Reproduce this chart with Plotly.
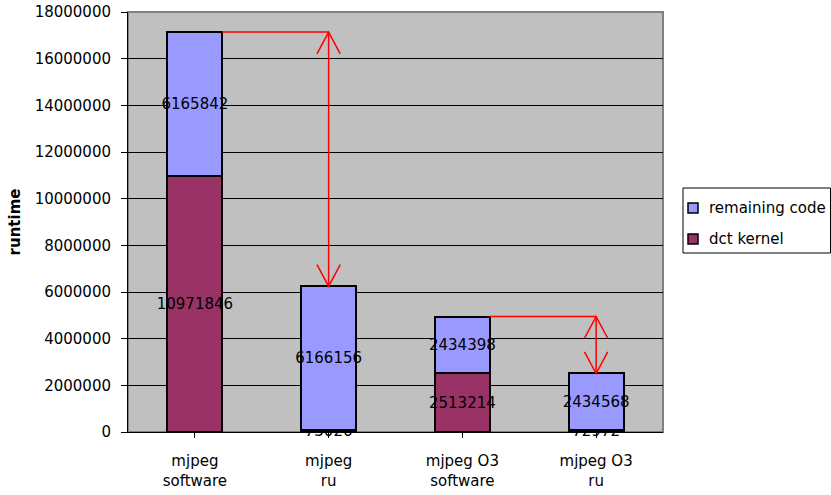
import plotly.graph_objects as go

categories = ["mjpeg<br>software", "mjpeg<br>ru", "mjpeg O3<br>software", "mjpeg O3<br>ru"]
dct_kernel = [10971846, 73026, 2513214, 72972]
remaining_code = [6165842, 6166156, 2434398, 2434568]
y_ticks = list(range(0, 18000001, 2000000))
series_names = ["remaining code", "dct kernel"]
series_colors = ["#9999FF", "#993366"]

totals = [a + b for a, b in zip(dct_kernel, remaining_code)]
x_idx = list(range(len(categories)))

FONT = "DejaVu Sans, Liberation Sans, Arial"
label_font = dict(color="black", size=15, family=FONT)

fig = go.Figure()
fig.add_trace(go.Bar(
    name=series_names[1], x=x_idx, y=dct_kernel,
    marker=dict(color=series_colors[1], line=dict(color="black", width=2)),
    text=[str(v) for v in dct_kernel], textposition="inside", insidetextanchor="middle",
    textangle=0, textfont=label_font, insidetextfont=label_font,
    constraintext="none", cliponaxis=False, showlegend=False,
))
fig.add_trace(go.Bar(
    name=series_names[0], x=x_idx, y=remaining_code,
    marker=dict(color=series_colors[0], line=dict(color="black", width=2)),
    text=[str(v) for v in remaining_code], textposition="inside", insidetextanchor="middle",
    textangle=0, textfont=label_font, insidetextfont=label_font,
    constraintext="none", cliponaxis=False, showlegend=False,
))

bar_half = 0.205
head_dx = 0.087
head_dy = 930000
red = dict(color="red", width=1.5)

def arrow(i_from, i_to):
    y0 = totals[i_from]
    y1 = totals[i_to]
    fig.add_shape(type="line", xref="x", yref="y", x0=i_from + bar_half, x1=i_to, y0=y0, y1=y0, line=red)
    fig.add_shape(type="line", xref="x", yref="y", x0=i_to, x1=i_to, y0=y0, y1=y1, line=red)
    fig.add_shape(type="path", xref="x", yref="y",
                  path=f"M {i_to - head_dx},{y0 - head_dy} L {i_to},{y0} L {i_to + head_dx},{y0 - head_dy}",
                  line=red)
    fig.add_shape(type="path", xref="x", yref="y",
                  path=f"M {i_to - head_dx},{y1 + head_dy} L {i_to},{y1} L {i_to + head_dx},{y1 + head_dy}",
                  line=red)

arrow(0, 1)
arrow(2, 3)

# figure geometry (body margin removed via post_script, so figure fills the window)
W, H = 831, 495
ML, MR, MT, MB = 128, 168, 12, 63
PW, PH = W - ML - MR, H - MT - MB

def px(x):  # pixel x -> paper
    return (x - ML) / PW

def py(y):  # pixel y -> paper
    return (H - MB - y) / PH

# custom legend box
fig.add_shape(type="rect", xref="paper", yref="paper",
              x0=px(683), x1=px(830.5), y0=py(253), y1=py(188),
              line=dict(color="black", width=1), fillcolor="white")
for k, (name, col) in enumerate(zip(series_names, series_colors)):
    yc = 208 + k * 31
    fig.add_shape(type="rect", xref="paper", yref="paper",
                  x0=px(688), x1=px(698), y0=py(yc + 5), y1=py(yc - 5),
                  line=dict(color="black", width=1.5), fillcolor=col)
    fig.add_annotation(xref="paper", yref="paper", x=px(707), y=py(yc),
                       text=name, showarrow=False, xanchor="left", yanchor="middle",
                       font=dict(size=15, family=FONT, color="black"))

fig.update_layout(
    barmode="stack",
    bargap=0.59,
    width=W, height=H,
    margin=dict(l=ML, r=MR, t=MT, b=MB, autoexpand=False),
    paper_bgcolor="white",
    plot_bgcolor="#C0C0C0",
    font=dict(family=FONT, size=15, color="black"),
    uniformtext=dict(minsize=15, mode="show"),
    showlegend=False,
)
fig.update_xaxes(
    tickmode="array", tickvals=x_idx, ticktext=categories,
    range=[-0.5, 3.5], tickson="boundaries", ticks="outside", ticklen=5,
    tickcolor="black", showline=True, linecolor="black", linewidth=1,
    mirror=False, showgrid=False, tickfont=dict(size=15), automargin=False,
    ticklabelstandoff=10, ticklabeloverflow="allow",
)
fig.update_yaxes(
    range=[0, 18000000], tickmode="array", tickvals=y_ticks,
    ticktext=[str(v) for v in y_ticks], ticks="outside", ticklen=6, tickcolor="black",
    showline=True, linecolor="black", linewidth=1,
    showgrid=True, gridcolor="black", gridwidth=1, zeroline=False,
    tickfont=dict(size=15), automargin=False,
    ticklabelstandoff=7, ticklabeloverflow="allow",
    title=dict(text="<b>runtime</b>", font=dict(size=15), standoff=10),
)
fig.add_shape(type="rect", xref="paper", yref="paper", x0=0, x1=1, y0=0, y1=1,
              line=dict(color="#808080", width=2), layer="below")

fig.write_html(
    "out.html",
    config={"displayModeBar": False},
    post_script="document.body.style.margin='0';document.body.style.overflow='hidden';",
)
